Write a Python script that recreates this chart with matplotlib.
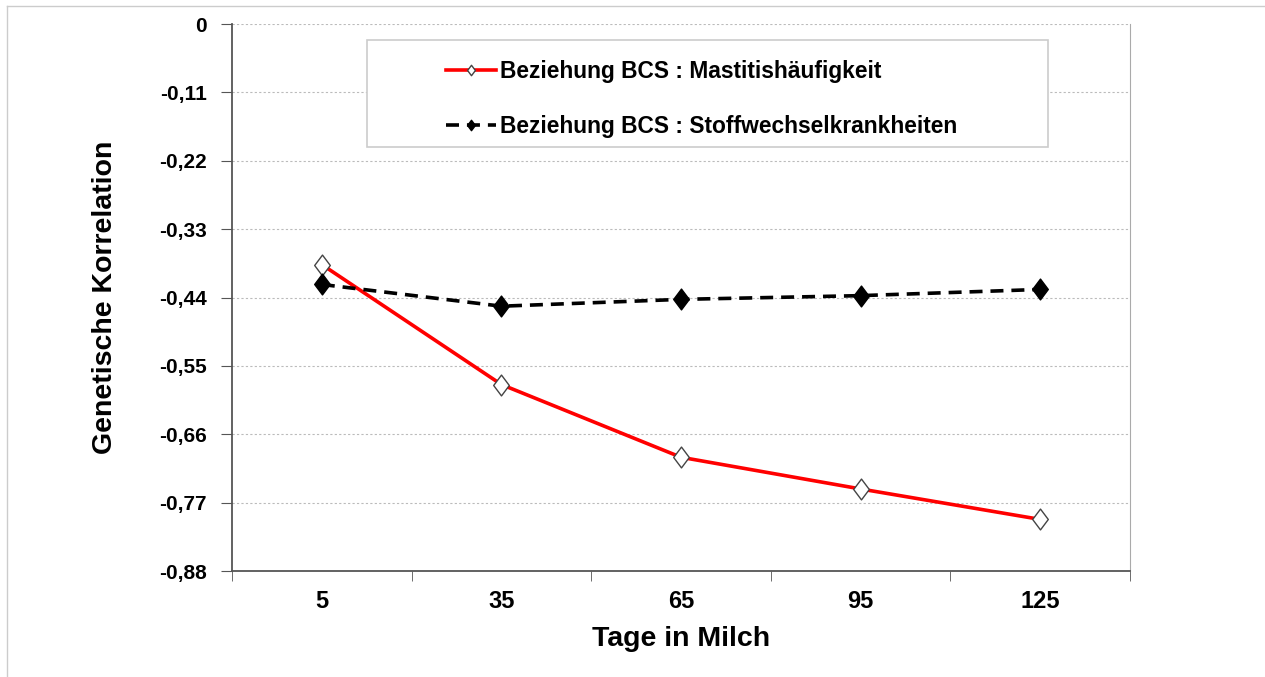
import matplotlib.pyplot as plt
from matplotlib.path import Path
import numpy as np

days = ["5", "35", "65", "95", "125"]
mastitis = [-0.387, -0.580, -0.697, -0.748, -0.797]
stoffwechsel = [-0.419, -0.454, -0.443, -0.437, -0.427]
y_ticks = [0, -0.11, -0.22, -0.33, -0.44, -0.55, -0.66, -0.77, -0.88]
y_labels = ["0", "-0,11", "-0,22", "-0,33", "-0,44", "-0,55", "-0,66", "-0,77", "-0,88"]

plt.rcParams['font.family'] = ['Liberation Sans', 'DejaVu Sans']
plt.rcParams['font.weight'] = 'bold'

# tall diamond like the Excel marker
diamond = Path([(0, 1), (0.75, 0), (0, -1), (-0.75, 0), (0, 1)],
               [Path.MOVETO, Path.LINETO, Path.LINETO, Path.LINETO, Path.CLOSEPOLY])

fig = plt.figure(figsize=(12.65, 6.77), dpi=100)
ax = fig.add_axes([232 / 1265, 1 - 571 / 677, 898 / 1265, 547 / 677])

x = np.arange(len(days))
ax.plot(x, mastitis, color="red", lw=2.6, marker=diamond, markersize=15,
        markerfacecolor="white", markeredgecolor="#444444", markeredgewidth=1,
        label="Beziehung BCS : Mastitishäufigkeit")
ax.plot(x, stoffwechsel, color="black", lw=2.6, ls=(0, (3.6, 2.2)), marker=diamond,
        markersize=15, markerfacecolor="black", markeredgecolor="black",
        label="Beziehung BCS : Stoffwechselkrankheiten")

ax.set_xlim(-0.5, 4.5)
ax.set_ylim(-0.88, 0)
ax.set_xticks(x)
ax.set_xticklabels(days)
ax.set_xticks(np.arange(-0.5, 5, 1), minor=True)
ax.tick_params(axis="x", which="major", length=0, pad=14, labelsize=17)
ax.tick_params(axis="x", which="minor", length=7, color="#555555")
ax.set_yticks(y_ticks)
ax.set_yticklabels(y_labels)
ax.tick_params(axis="y", length=8, color="#555555", pad=10, labelsize=15)

ax.grid(axis="y", ls=(0, (2, 2)), color="#bbbbbb", lw=0.8)
for s in ["left", "bottom"]:
    ax.spines[s].set_color("#555555")
    ax.spines[s].set_linewidth(1.3)
ax.spines["top"].set_visible(False)
ax.spines["right"].set_color("#aaaaaa")

ax.set_xlabel("Tage in Milch", fontsize=20.5, fontweight="bold", labelpad=9)
ax.set_ylabel("Genetische Korrelation", fontsize=20.5, fontweight="bold", labelpad=30)

# legend frame drawn separately so the box can be wider than the entries
ax.add_patch(plt.Rectangle((367 / 1265, 1 - 147 / 677), 681 / 1265, 107 / 677,
                           transform=fig.transFigure, facecolor="white",
                           edgecolor="#cccccc", lw=1.2, zorder=4, clip_on=False))
leg = ax.legend(loc="upper left", bbox_to_anchor=(446 / 1265, 1 - 60 / 677),
                bbox_transform=fig.transFigure, fontsize=16.4, frameon=False,
                handlelength=2.2, markerscale=0.5, borderpad=0, borderaxespad=0,
                labelspacing=1.4, handletextpad=0.15)
leg.set_zorder(5)

# outer border (top and left only)
fig.add_artist(plt.Line2D([7 / 1265, 1], [1 - 6 / 677, 1 - 6 / 677],
                          transform=fig.transFigure, color="#cccccc", lw=1))
fig.add_artist(plt.Line2D([7 / 1265, 7 / 1265], [0, 1 - 6 / 677],
                          transform=fig.transFigure, color="#cccccc", lw=1))

plt.savefig("out.png")
